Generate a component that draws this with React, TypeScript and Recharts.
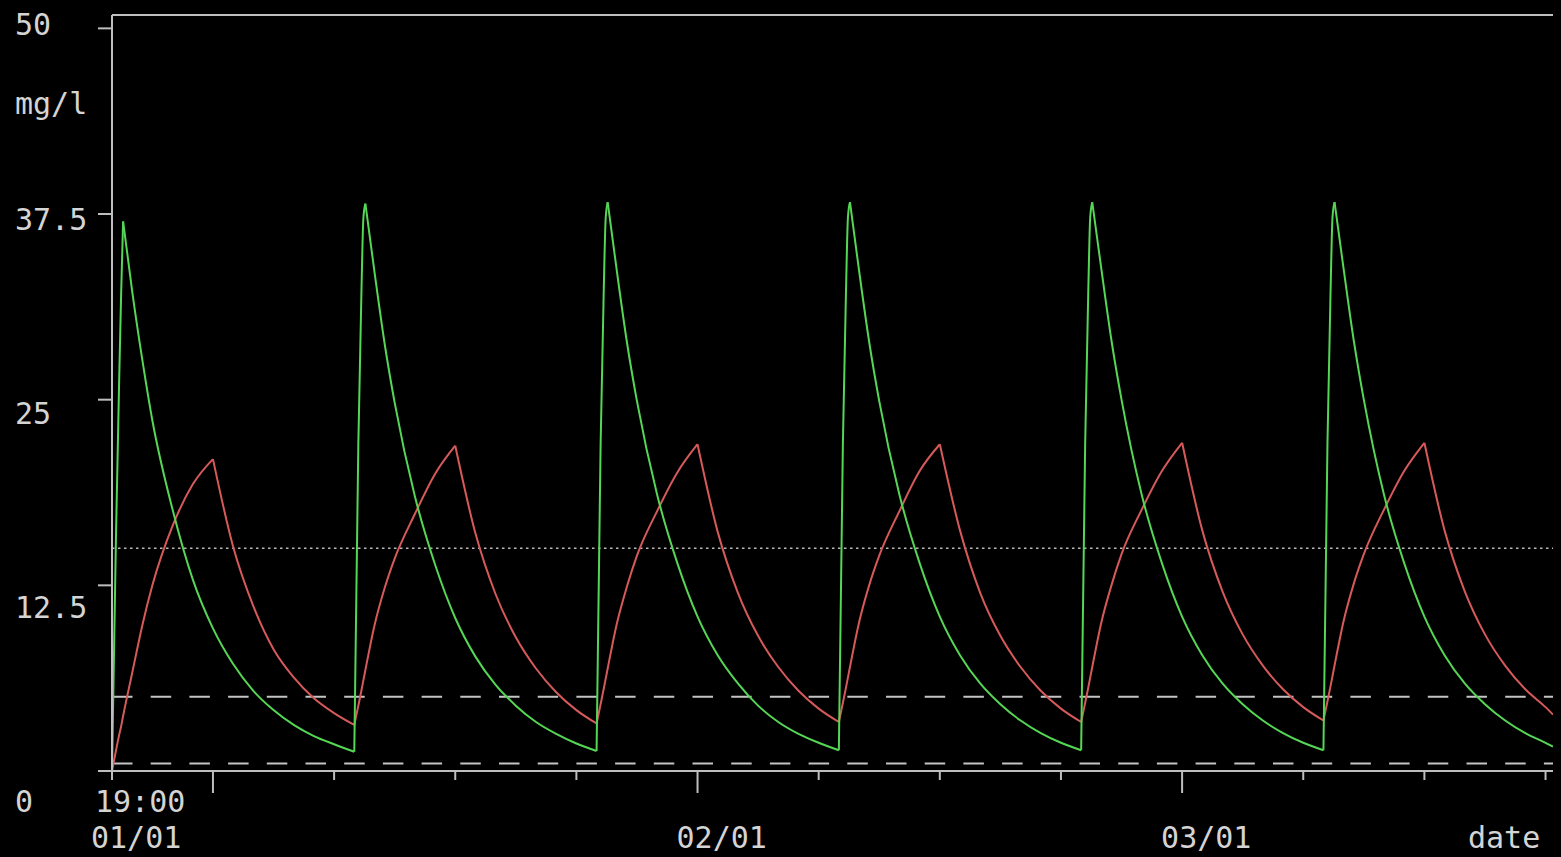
import React from 'react';
import { LineChart, Line, XAxis, YAxis, ReferenceLine } from 'recharts';

// sample times in hours since 01/01 19:00, one row per 12 h dosing cycle
const hours = [
  0, 0.2, 0.35, 0.45, 0.55, 1, 1.5, 2, 3, 4, 5, 6, 7, 8, 9, 10, 11,
  12, 12.2, 12.35, 12.45, 12.55, 13, 13.5, 14, 15, 16, 17, 18, 19, 20, 21, 22, 23,
  24, 24.2, 24.35, 24.45, 24.55, 25, 25.5, 26, 27, 28, 29, 30, 31, 32, 33, 34, 35,
  36, 36.2, 36.35, 36.45, 36.55, 37, 37.5, 38, 39, 40, 41, 42, 43, 44, 45, 46, 47,
  48, 48.2, 48.35, 48.45, 48.55, 49, 49.5, 50, 51, 52, 53, 54, 55, 56, 57, 58, 59,
  60, 60.2, 60.35, 60.45, 60.55, 61, 61.5, 62, 63, 64, 65, 66, 67, 68, 69, 70, 71, 71.37,
];

// green curve (mg/l)
const greenConc = [
  0, 16, 26, 32, 37.0, 32.3, 27.7, 23.6, 17.6, 12.9, 9.6, 7.2, 5.4, 4.1, 3.1, 2.35, 1.8,
  1.3, 22, 32, 37.2, 38.2, 33.6, 28.8, 24.8, 18.5, 13.9, 10.3, 7.7, 5.8, 4.4, 3.3, 2.5, 1.85,
  1.35, 22, 32, 37.2, 38.3, 33.7, 28.9, 24.9, 18.6, 14.0, 10.4, 7.8, 5.9, 4.4, 3.3, 2.5, 1.9,
  1.4, 22.1, 32.1, 37.3, 38.3, 33.7, 28.9, 24.9, 18.6, 14.0, 10.4, 7.8, 5.9, 4.5, 3.4, 2.55, 1.9,
  1.4, 22.1, 32.1, 37.3, 38.3, 33.8, 29.0, 25.0, 18.6, 14.0, 10.4, 7.8, 5.9, 4.5, 3.4, 2.55, 1.9,
  1.4, 22.1, 32.1, 37.3, 38.3, 33.8, 29.0, 25.0, 18.6, 14.0, 10.4, 7.8, 5.9, 4.5, 3.4, 2.55, 1.9, 1.65,
];

// red curve (mg/l)
const redConc = [
  0, 1.4, 2.4, 3.0, 3.7, 6.6, 9.8, 12.5, 16.5, 19.3, 21.0, 15.1, 11.1, 8.2, 6.3, 4.9, 3.9,
  3.1, 4.4, 5.4, 6.1, 6.8, 9.8, 12.3, 14.3, 17.3, 20.0, 21.9, 16.0, 11.9, 9.0, 6.9, 5.3, 4.1,
  3.2, 4.5, 5.5, 6.2, 6.9, 9.9, 12.4, 14.5, 17.5, 20.1, 22.0, 16.1, 12.0, 9.1, 7.0, 5.4, 4.2,
  3.3, 4.6, 5.6, 6.3, 7.0, 10.0, 12.5, 14.5, 17.5, 20.2, 22.0, 16.2, 12.0, 9.1, 7.0, 5.4, 4.2,
  3.3, 4.6, 5.6, 6.3, 7.0, 10.0, 12.5, 14.6, 17.6, 20.2, 22.1, 16.2, 12.1, 9.2, 7.1, 5.5, 4.3,
  3.4, 4.7, 5.7, 6.4, 7.1, 10.1, 12.6, 14.6, 17.6, 20.2, 22.1, 16.2, 12.1, 9.2, 7.1, 5.5, 4.3, 3.8,
];

const yTicks = [0, 12.5, 25, 37.5, 50];
const xTicks = [0, 5, 11, 17, 23, 29, 35, 41, 47, 53, 59, 65, 71];
const majorTicks = [5, 29, 53];
const xTickLabels: Record<number, string[]> = {
  0: ['19:00', '01/01'],
  29: ['', '02/01'],
  53: ['', '03/01'],
};
const dottedLevel = 15;
const dashedLevels = [5, 0.5];
const yMax = 50.9;
const xMax = 71.37;

// split a series into rising and falling runs so peaks and troughs stay sharp
function runs(vals: number[], rising: boolean) {
  return vals.map((v, i) => {
    const next = vals[i + 1];
    const prev = vals[i - 1];
    const inRun =
      (next !== undefined && (rising ? next > v : next < v)) ||
      (prev !== undefined && (rising ? prev < v : prev > v));
    return inRun ? v : null;
  });
}

const greenUp = runs(greenConc, true);
const greenDown = runs(greenConc, false);
const redUp = runs(redConc, true);
const redDown = runs(redConc, false);

const data = hours.map((h, i) => ({
  h,
  greenUp: greenUp[i],
  greenDown: greenDown[i],
  redUp: redUp[i],
  redDown: redDown[i],
}));

const FONT = '"DejaVu Sans Mono", "Liberation Mono", monospace';
const TEXT = '#d4d4d4';
const AXIS = '#bebebe';
const GREEN = '#55d655';
const RED = '#d65a5a';

function YTick({ y, payload }: any) {
  const v = payload.value;
  // labels drift down a little relative to their ticks in the original
  const dy = 7 + ((50 - v) / 12.5) * 8.5;
  return (
    <text x={15} y={y + dy} fill={TEXT} fontFamily={FONT} fontSize={30}>
      {String(v)}
    </text>
  );
}

function XTick({ x, y, payload }: any) {
  const v = payload.value;
  const len = majorTicks.includes(v) ? 22 : 9;
  const lab = xTickLabels[v];
  return (
    <g>
      <line x1={x} x2={x} y1={y} y2={y + len} stroke={AXIS} strokeWidth={2} />
      {lab && lab[0] ? (
        <text x={x - 17} y={y + 41} fill={TEXT} fontFamily={FONT} fontSize={30}>
          {lab[0]}
        </text>
      ) : null}
      {lab ? (
        <text x={x - 21} y={y + 77} fill={TEXT} fontFamily={FONT} fontSize={30}>
          {lab[1]}
        </text>
      ) : null}
    </g>
  );
}

export default function App() {
  return (
    <div style={{ position: 'fixed', left: 0, top: 0, width: 1561, height: 857, background: '#000' }}>
      <LineChart
        width={1561}
        height={857}
        data={data}
        margin={{ top: 15, right: 8, bottom: 0, left: 0 }}
        style={{ background: '#000' }}
      >
        <XAxis
          type="number"
          dataKey="h"
          domain={[0, xMax]}
          ticks={xTicks}
          interval={0}
          height={86}
          tickSize={0}
          tickMargin={0}
          tickLine={false}
          axisLine={{ stroke: AXIS, strokeWidth: 2 }}
          tick={<XTick />}
          allowDataOverflow
        />
        <YAxis
          type="number"
          domain={[0, yMax]}
          ticks={yTicks}
          interval={0}
          width={112}
          tickSize={14}
          tickLine={{ stroke: AXIS, strokeWidth: 2 }}
          axisLine={{ stroke: AXIS, strokeWidth: 2 }}
          tick={<YTick />}
          allowDataOverflow
        />
        <ReferenceLine y={yMax} stroke={AXIS} strokeWidth={2} />
        <ReferenceLine y={dottedLevel} stroke="#b8b8b8" strokeWidth={1.5} strokeDasharray="2.5 3.5" />
        {dashedLevels.map((lv) => (
          <ReferenceLine key={lv} y={lv} stroke="#c4c4c4" strokeWidth={2} strokeDasharray="20.5 18.2" />
        ))}
        <Line type="monotone" dataKey="redUp" stroke={RED} strokeWidth={2} dot={false} isAnimationActive={false} />
        <Line type="monotone" dataKey="redDown" stroke={RED} strokeWidth={2} dot={false} isAnimationActive={false} />
        <Line type="monotone" dataKey="greenUp" stroke={GREEN} strokeWidth={2} dot={false} isAnimationActive={false} />
        <Line type="monotone" dataKey="greenDown" stroke={GREEN} strokeWidth={2} dot={false} isAnimationActive={false} />
      </LineChart>
      <svg
        width={1561}
        height={857}
        style={{ position: 'absolute', left: 0, top: 0, pointerEvents: 'none' }}
      >
        <text x={15} y={114} fill={TEXT} fontFamily={FONT} fontSize={30}>
          mg/l
        </text>
        <text x={1468} y={848} fill={TEXT} fontFamily={FONT} fontSize={30}>
          date
        </text>
      </svg>
    </div>
  );
}
